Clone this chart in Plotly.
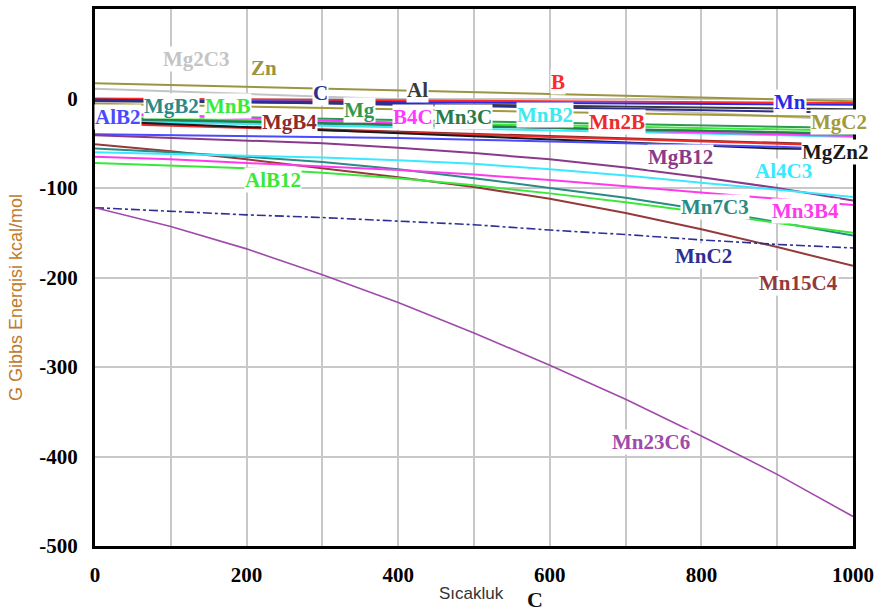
import plotly.graph_objects as go

# ---------------- data ----------------
temps = [0, 100, 200, 300, 400, 500, 600, 700, 800, 900, 1000]

Zn = [17, 15, 13, 11, 9, 7, 5, 3, 1, -1, -3]
Mg2C3 = [11, 8, 5, 2, -1, -4, -8, -12, -16, -20, -24]
B = [0, -0.5, -1, -1.5, -2, -2.5, -3, -3.5, -4, -4.5, -5]
Mn = [-2, -2.5, -3, -3.5, -4, -4.5, -5, -5.5, -6, -6.5, -7]
Al = [-3, -3.5, -4, -5, -6, -7, -8, -9, -10, -11, -12]
C = [-1, -2.5, -4, -5.5, -7, -8.5, -10, -11.5, -13, -14.5, -16]
MgC2 = [-6, -7.5, -9, -10.5, -12, -13.5, -15, -16.5, -18, -19.5, -21]
Mg = [-18, -19.5, -21, -22.5, -24, -25.5, -27, -28.5, -30, -31.5, -33]
MnB = [-21, -22.5, -24, -25.5, -27, -28.5, -30, -31.5, -33, -34.5, -36]
MgB2 = [-24, -25.5, -27, -28.5, -30, -31.5, -33, -34.5, -36, -37.5, -39]
MnB2 = [-25, -27, -29, -30.5, -32, -34, -36, -37.5, -39, -41, -43]
B4C = [-16, -19, -22, -24.5, -27, -30, -33, -35.5, -38, -40, -42]
Mn3C = [-22, -24, -26, -27.5, -29, -31, -33, -34.5, -36, -38, -40]
MgB4 = [-27, -29.5, -32, -34.5, -37, -39.5, -42, -44.5, -47, -49.5, -52]
Mn2B = [-28, -30.5, -33, -35.5, -38, -40.5, -43, -45.5, -48, -50.5, -53]
MgZn2 = [-25, -28.5, -32, -35.5, -39, -42.5, -46, -49.5, -53, -56, -57]
AlB2 = [-40, -41, -42, -43, -44, -46, -48, -50, -52, -54, -57]
MgB12 = [-41, -44, -47, -50, -55, -61, -68, -77, -88, -100, -114]
Mn15C4 = [-51, -59, -68, -78, -88, -99, -112, -128, -146, -166, -187]
Mn7C3 = [-56, -60, -65, -71, -79, -89, -100, -111, -124, -138, -153]
Al4C3 = [-60, -62, -64, -66, -69, -73, -79, -86, -94, -102, -110]
Mn3B4 = [-65, -68, -72, -76, -80, -85, -91, -98, -105, -112, -119]
AlB12 = [-72, -75, -78, -83, -89, -97, -106, -116, -127, -139, -150]
MnC2 = [-122, -126, -130, -133, -137, -141, -147, -152, -158, -163, -167]
Mn23C6 = [-122, -143, -168, -197, -228, -262, -298, -336, -377, -420, -467]

x_ticks = [0, 200, 400, 600, 800, 1000]
y_ticks = [100, 0, -100, -200, -300, -400, -500]

series = [
    ("Zn", Zn), ("Mg2C3", Mg2C3), ("B", B), ("Mn", Mn), ("Al", Al), ("C", C),
    ("MgC2", MgC2), ("Mg", Mg), ("MnB", MnB), ("MgB2", MgB2), ("MnB2", MnB2),
    ("B4C", B4C), ("Mn3C", Mn3C), ("MgB4", MgB4), ("Mn2B", Mn2B),
    ("MgZn2", MgZn2), ("AlB2", AlB2), ("MgB12", MgB12), ("Mn15C4", Mn15C4),
    ("Mn7C3", Mn7C3), ("Al4C3", Al4C3), ("Mn3B4", Mn3B4), ("AlB12", AlB12),
    ("MnC2", MnC2), ("Mn23C6", Mn23C6),
]

# ---------------- styles ----------------
colors = {
    "Zn": "#9b9440", "Mg2C3": "#c4c4c4", "B": "#ff2a2a", "Mn": "#2a2ae6",
    "Al": "#3a3a3a", "C": "#2e2e8c", "MgC2": "#a39a3a", "Mg": "#2e9a4e",
    "MnB": "#3aea3a", "MgB2": "#2a8a8a", "MnB2": "#3aeaf0", "B4C": "#ff3aff",
    "Mn3C": "#2a7a4a", "MgB4": "#8e2a2a", "Mn2B": "#ee2a2a", "MgZn2": "#1a1a1a",
    "AlB2": "#4a4aff", "MgB12": "#8a3a8a", "Mn15C4": "#943a3a",
    "Mn7C3": "#2a8a84", "Al4C3": "#3ae8ff", "Mn3B4": "#ff3aee",
    "AlB12": "#3ae83a", "MnC2": "#2e2e94", "Mn23C6": "#a04aac",
}
# label anchor positions (data coordinates)
label_pos = {
    "Mg2C3": (134, 44), "Zn": (223, 34), "C": (297, 6), "Al": (426, 9.5),
    "B": (611, 18), "Mn": (917, -4), "AlB2": (30, -21), "MgB2": (101, -8),
    "MnB": (175, -8), "MgB4": (257, -26), "Mg": (349, -13), "B4C": (419, -21),
    "Mn3C": (486, -21), "MnB2": (594, -18), "Mn2B": (688, -26),
    "MgC2": (981, -26), "MgZn2": (977, -60), "MgB12": (772, -65),
    "Al4C3": (908, -81), "AlB12": (235, -91), "Mn7C3": (818, -121),
    "Mn3B4": (937, -126), "MnC2": (803, -176), "Mn15C4": (928, -206),
    "Mn23C6": (734, -384),
}

W, H = 877, 611
L, R, T, Bm = 95, 24, 9, 65
pw, ph = W - L - R, H - T - Bm

fig = go.Figure()
for name, vals in series:
    line = dict(color=colors[name], width=2)
    if name == "MnC2":
        line = dict(color=colors[name], width=1.6, dash="dashdot")
    if name == "Mn23C6":
        line = dict(color=colors[name], width=1.6)
    fig.add_trace(go.Scatter(x=temps, y=vals, mode="lines", name=name,
                             line=line, hoverinfo="skip", showlegend=False))

annotations = []
for name, (lx, ly) in label_pos.items():
    annotations.append(dict(
        x=lx, y=ly, xref="x", yref="y", text=name, showarrow=False,
        bgcolor="white", borderpad=0,
        font=dict(family="Liberation Serif", size=21, color=colors[name],
                  weight="bold"),
    ))


def px_note(text, px, py, font, angle=0):
    return dict(
        x=(px - L) / pw, y=1 - (py - T) / ph, xref="paper", yref="paper",
        xanchor="center", yanchor="middle", text=text, showarrow=False,
        textangle=angle, font=font,
    )


annotations.append(px_note("Sıcakluk", 471, 593,
                           dict(family="Liberation Sans", size=17, color="#333333")))
annotations.append(px_note("C", 535, 599,
                           dict(family="Liberation Serif", size=22, color="#111111",
                                weight="bold")))
annotations.append(px_note("G Gibbs Enerqisi kcal/mol", 16, 298,
                           dict(family="Liberation Sans", size=18, color="#c07a30"),
                           angle=-90))

tick_font = dict(family="Liberation Serif", size=21, color="black", weight="bold")

fig.update_layout(
    width=W, height=H,
    margin=dict(l=L, r=R, t=T, b=Bm, autoexpand=False),
    paper_bgcolor="white", plot_bgcolor="white",
    annotations=annotations,
    xaxis=dict(
        range=[0, 1000], tickvals=x_ticks, ticktext=[str(v) for v in x_ticks],
        showgrid=True, gridcolor="#c8c8c8", gridwidth=1.5,
        minor=dict(dtick=100, showgrid=True, gridcolor="#c8c8c8", gridwidth=1.5),
        showline=True, linecolor="black", linewidth=3, mirror=True,
        ticks="outside", ticklen=0, ticklabelstandoff=8, automargin=False,
        tickfont=tick_font, zeroline=False,
    ),
    yaxis=dict(
        range=[-500, 100], tickvals=y_ticks, ticktext=[str(v) for v in y_ticks],
        showgrid=True, gridcolor="#c8c8c8", gridwidth=1.5,
        showline=True, linecolor="black", linewidth=3, mirror=True,
        ticks="outside", ticklen=0, ticklabelstandoff=10, automargin=False,
        tickfont=tick_font, zeroline=False,
    ),
)

fig.write_html("out.html",
               config={"displayModeBar": False},
               post_script="document.body.style.margin='0px';"
                           "document.body.style.overflow='hidden';")
